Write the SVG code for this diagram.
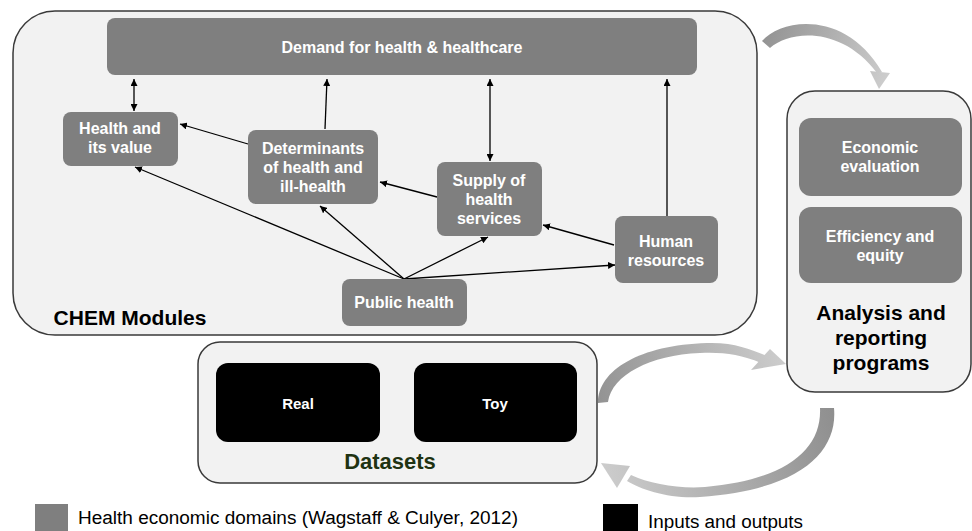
<svg xmlns="http://www.w3.org/2000/svg" width="972" height="531" viewBox="0 0 972 531">
<style>
.cont{fill:#f2f2f2;stroke:#3a3a3a;stroke-width:1.5}
.box{fill:#7f7f7f}
.blk{fill:#000}
.bt{font-family:"Liberation Sans",Arial,sans-serif;font-weight:bold;font-size:16px;fill:#fff;text-anchor:middle}
.lab{font-family:"Liberation Sans",Arial,sans-serif;font-weight:bold;font-size:21px;fill:#000;text-anchor:middle}
.leg{font-family:"Liberation Sans",Arial,sans-serif;font-size:18px;fill:#000}
.con{stroke:#000;stroke-width:1.3;fill:none;marker-end:url(#ah)}
.dbl{marker-start:url(#ahs)}
</style>
<defs>
<marker id="ah" viewBox="0 0 10 10" refX="10" refY="5" markerWidth="7" markerHeight="7" markerUnits="userSpaceOnUse" orient="auto"><path d="M0,0 L10,5 L0,10 Z" fill="#000"/></marker>
<marker id="ahs" viewBox="0 0 10 10" refX="0" refY="5" markerWidth="7" markerHeight="7" markerUnits="userSpaceOnUse" orient="auto"><path d="M10,0 L0,5 L10,10 Z" fill="#000"/></marker>
<linearGradient id="g1" gradientUnits="userSpaceOnUse" x1="762" y1="40" x2="885" y2="85"><stop offset="0" stop-color="#939393"/><stop offset="1" stop-color="#cdcdcd"/></linearGradient>
<linearGradient id="g2" gradientUnits="userSpaceOnUse" x1="598" y1="400" x2="786" y2="360"><stop offset="0" stop-color="#939393"/><stop offset="1" stop-color="#cdcdcd"/></linearGradient>
<linearGradient id="g3" gradientUnits="userSpaceOnUse" x1="834" y1="410" x2="600" y2="470"><stop offset="0" stop-color="#8f8f8f"/><stop offset="1" stop-color="#cdcdcd"/></linearGradient>
</defs>
<rect width="972" height="531" fill="#fff"/>

<g id="chem-modules">
<rect class="cont" x="13" y="11" width="744" height="324" rx="42" ry="42"/>
<text class="lab" x="130" y="325">CHEM Modules</text>
</g>
<g id="analysis">
<rect class="cont" x="787" y="91" width="184" height="301" rx="28" ry="28"/>
<text class="lab" x="881" y="320">Analysis  and</text>
<text class="lab" x="881" y="345">reporting</text>
<text class="lab" x="881" y="370">programs</text>
</g>
<g id="datasets">
<rect class="cont" x="198" y="342" width="399" height="141" rx="22" ry="22"/>
<text class="lab" x="390" y="469" style="fill:#1f3312;font-size:22px">Datasets</text>
</g>

<g id="connectors">
<line class="con dbl" x1="134" y1="79" x2="134" y2="111"/>
<line class="con" x1="325" y1="129" x2="327" y2="79"/>
<line class="con dbl" x1="490" y1="79" x2="490" y2="161"/>
<line class="con" x1="667" y1="216" x2="667" y2="79"/>
<line class="con" x1="248" y1="144" x2="180" y2="124"/>
<line class="con" x1="437" y1="197" x2="380" y2="182"/>
<line class="con" x1="614" y1="245" x2="543" y2="225"/>
<line class="con" x1="404" y1="279" x2="135" y2="167"/>
<line class="con" x1="404" y1="279" x2="320" y2="206"/>
<line class="con" x1="404" y1="279" x2="488" y2="237"/>
<line class="con" x1="404" y1="279" x2="615" y2="265"/>
<path fill="url(#g1)" d="M762,41 C782,18 846,10 882,72 L877,73 C842,26 790,30 770,48 Z"/>
<polygon fill="url(#g1)" points="870,71 890,73 879,89"/>
<path fill="url(#g2)" d="M598,403 C598,370 640,345 707,343 C735,342 752,350 767,356 L761,363 C740,354 722,352 700,353 C650,355 612,375 608,402 Z"/>
<polygon fill="url(#g2)" points="751,370 770,349 786,364"/>
<path fill="url(#g3)" d="M834,408 C838,452 800,490 700,497 C670,499 642,490 627,481 L631,475 C650,484 680,489 705,487 C785,480 822,450 820,408 Z"/>
<polygon fill="url(#g3)" points="630,466 617,488 601,463"/>
</g>

<g id="demand">
<rect class="box" x="107" y="18" width="590" height="57" rx="8"/>
<text class="bt" x="402" y="53">Demand for health &amp; healthcare</text>
</g>
<g id="health-value">
<rect class="box" x="63" y="112" width="115" height="54" rx="8"/>
<text class="bt" x="120" y="134">Health and</text>
<text class="bt" x="120" y="153">its value</text>
</g>
<g id="determinants">
<rect class="box" x="248" y="130" width="130" height="74" rx="8"/>
<text class="bt" x="313" y="154">Determinants</text>
<text class="bt" x="313" y="173">of health and</text>
<text class="bt" x="313" y="192">ill-health</text>
</g>
<g id="supply">
<rect class="box" x="437" y="162" width="105" height="74" rx="8"/>
<text class="bt" x="489" y="186">Supply of</text>
<text class="bt" x="489" y="205">health</text>
<text class="bt" x="489" y="224">services</text>
</g>
<g id="human">
<rect class="box" x="615" y="216" width="103" height="67" rx="8"/>
<text class="bt" x="666" y="247">Human</text>
<text class="bt" x="666" y="266">resources</text>
</g>
<g id="public-health">
<rect class="box" x="342" y="279" width="125" height="47" rx="8"/>
<text class="bt" x="404" y="308">Public health</text>
</g>
<g id="economic-evaluation">
<rect class="box" x="799" y="118" width="163" height="78" rx="12"/>
<text class="bt" x="880" y="153">Economic</text>
<text class="bt" x="880" y="172">evaluation</text>
</g>
<g id="efficiency">
<rect class="box" x="799" y="207" width="163" height="76" rx="12"/>
<text class="bt" x="880" y="242">Efficiency and</text>
<text class="bt" x="880" y="261">equity</text>
</g>
<g id="real">
<rect class="blk" x="216" y="363" width="164" height="79" rx="12"/>
<text class="bt" x="298" y="409" style="font-size:15px">Real</text>
</g>
<g id="toy">
<rect class="blk" x="414" y="363" width="163" height="79" rx="12"/>
<text class="bt" x="495" y="409" style="font-size:15px">Toy</text>
</g>

<g id="legend">
<rect x="35" y="504" width="33" height="27" fill="#7f7f7f"/>
<text class="leg" x="78" y="524" textLength="440" lengthAdjust="spacingAndGlyphs">Health economic domains (Wagstaff &amp; Culyer, 2012)</text>
<rect x="603" y="504" width="35" height="27" fill="#000"/>
<text class="leg" x="648" y="528" textLength="155" lengthAdjust="spacingAndGlyphs">Inputs and outputs</text>
</g>
</svg>
